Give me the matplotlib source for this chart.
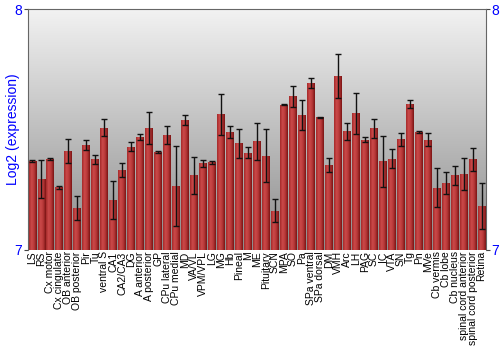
import numpy as np
import matplotlib
matplotlib.use("Agg")
import matplotlib.pyplot as plt
from matplotlib.colors import LinearSegmentedColormap

regions = ["LS", "RS", "Cx motor", "Cx cingulate", "OB anterior", "OB posterior", "Pir", "Tu",
           "ventral S", "CA1", "CA2/CA3", "DG", "A anterior", "A posterior", "GP", "CPu lateral",
           "CPu medial", "MD", "VA/VL", "VPM/VPL", "LG", "MG", "Hb", "Pineal", "M", "ME",
           "Pituitary", "SCN", "MPA", "SO", "Pa", "SPa ventral", "SPa dorsal", "DM", "VMH", "Arc",
           "LH", "PAG", "SC", "IC", "VTA", "SN", "Tg", "Pn", "MVe", "Cb vermis", "Cb lobe",
           "Cb nucleus", "spinal cord anterior", "spinal cord posterior", "Retina"]

expression = [7.369, 7.295, 7.378, 7.260, 7.410, 7.174, 7.437, 7.376,
              7.508, 7.207, 7.332, 7.430, 7.470, 7.508, 7.408, 7.478,
              7.267, 7.539, 7.311, 7.360, 7.364, 7.564, 7.491, 7.443, 7.405, 7.451,
              7.391, 7.163, 7.603, 7.638, 7.560, 7.693, 7.551, 7.353, 7.722, 7.494,
              7.568, 7.459, 7.505, 7.368, 7.380, 7.460, 7.607, 7.490, 7.459, 7.259, 7.278,
              7.310, 7.315, 7.376, 7.183]

err = [0.003, 0.080, 0.003, 0.005, 0.050, 0.050, 0.020, 0.018,
       0.036, 0.078, 0.030, 0.019, 0.014, 0.066, 0.003, 0.037,
       0.167, 0.021, 0.077, 0.015, 0.007, 0.085, 0.024, 0.060, 0.024, 0.077,
       0.110, 0.049, 0.002, 0.044, 0.062, 0.021, 0.002, 0.030, 0.091, 0.035,
       0.084, 0.012, 0.041, 0.107, 0.040, 0.028, 0.017, 0.004, 0.026, 0.082, 0.046,
       0.039, 0.066, 0.046, 0.095]

blue = "#0000ff"
plt.rcParams["font.family"] = ["Liberation Sans", "DejaVu Sans"]

fig = plt.figure(figsize=(5, 3.5), dpi=100)
ax = fig.add_axes([0.056, 0.286, 0.916, 0.687])

x = np.arange(len(regions))
ax.set_xlim(-0.5, len(regions) - 0.5)
ax.set_ylim(7, 8)

# background gradient, light at top
bg = LinearSegmentedColormap.from_list("bg", ["#f2f2f2", "#8c8c8c"])
ax.imshow(np.linspace(0, 1, 256).reshape(-1, 1), cmap=bg, aspect="auto",
          extent=[-0.5, len(regions) - 0.5, 7, 8], zorder=0)

bars = ax.bar(x, np.array(expression) - 7, bottom=7, width=0.88,
              color="#b03333", edgecolor="none", zorder=2)

# horizontal shading on each bar
barcm = LinearSegmentedColormap.from_list("bar", ["#a52a2a", "#cc4a4a", "#b53636", "#7a1414"])
grad = np.linspace(0, 1, 64).reshape(1, -1)
for b in bars:
    bx, bw, bh = b.get_x(), b.get_width(), b.get_height()
    im = ax.imshow(grad, cmap=barcm, aspect="auto",
                   extent=[bx, bx + bw, 7, 7 + bh], zorder=2.5)
    im.set_clip_path(b)

ax.errorbar(x, expression, yerr=err, fmt="none", ecolor="#111111",
            elinewidth=1, capsize=2.5, capthick=1, zorder=3)

ax.set_xticks(x)
ax.set_xticklabels(regions, rotation=90, fontsize=7.5)
ax.tick_params(axis="x", length=0, pad=1)

ax.set_yticks([7, 8])
ax.tick_params(axis="y", colors="#444444", labelcolor=blue, labelsize=10,
               length=3, pad=1, left=True, right=True, labelright=True)
ax.set_ylabel("Log2 (expression)", color=blue, fontsize=10, labelpad=-4)

for s in ["top", "left", "right"]:
    ax.spines[s].set_color("#666666")
ax.spines["bottom"].set_visible(False)

fig.savefig("out.png", dpi=100)
